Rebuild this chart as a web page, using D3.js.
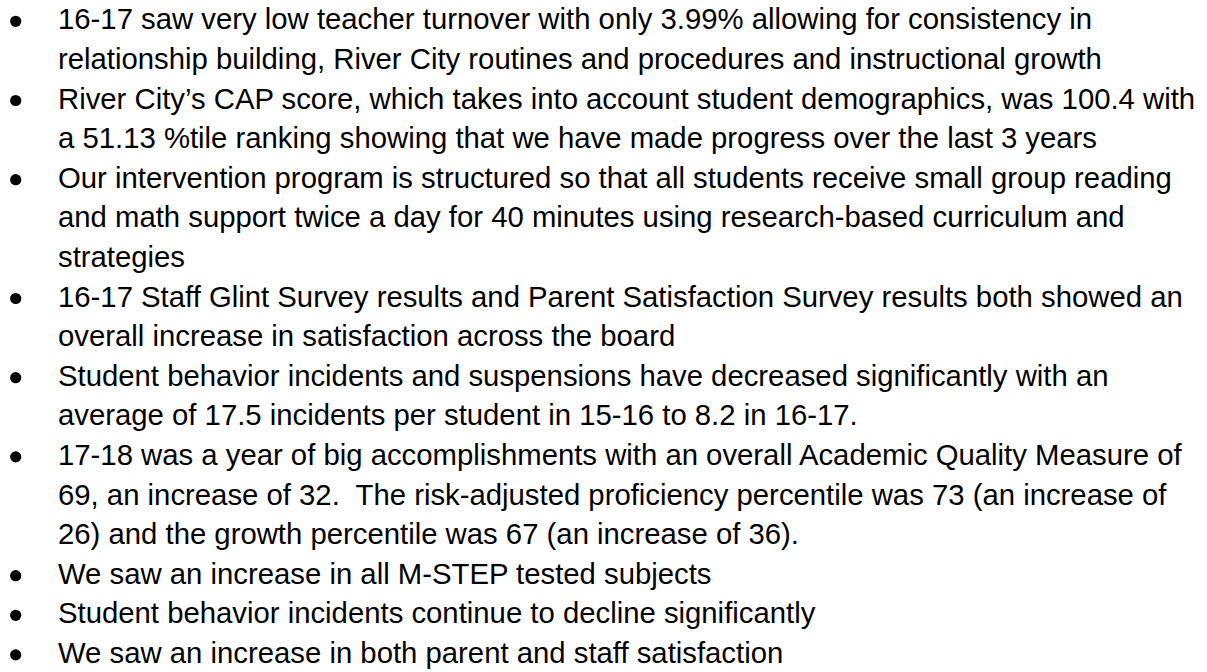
<!DOCTYPE html>
<html>
<head>
<meta charset="utf-8">
<script src="https://cdn.jsdelivr.net/npm/d3@7"></script>
<style>
  html, body { margin: 0; padding: 0; background: #fff; }
  svg { display: block; }
</style>
</head>
<body>
<svg id="chart1"></svg>
<script>
// Bullet points, already wrapped as in the source slide.
const bulletLines = [
	["16-17 saw very low teacher turnover with only 3.99% allowing for consistency in",
	 "relationship building, River City routines and procedures and instructional growth"],
	["River City\u2019s CAP score, which takes into account student demographics, was 100.4 with",
	 "a 51.13 %tile ranking showing that we have made progress over the last 3 years"],
	["Our intervention program is structured so that all students receive small group reading",
	 "and math support twice a day for 40 minutes using research-based curriculum and",
	 "strategies"],
	["16-17 Staff Glint Survey results and Parent Satisfaction Survey results both showed an",
	 "overall increase in satisfaction across the board"],
	["Student behavior incidents and suspensions have decreased significantly with an",
	 "average of 17.5 incidents per student in 15-16 to 8.2 in 16-17."],
	["17-18 was a year of big accomplishments with an overall Academic Quality Measure of",
	 "69, an increase of 32.  The risk-adjusted proficiency percentile was 73 (an increase of",
	 "26) and the growth percentile was 67 (an increase of 36)."],
	["We saw an increase in all M-STEP tested subjects"],
	["Student behavior incidents continue to decline significantly"],
	["We saw an increase in both parent and staff satisfaction"]
];

const width = 1207;
const height = 672;
const firstBaseline = 29.3;
const lineHeight = 39.6;
const textX = 58;
const bulletX = 15.7;
const fontSize = 29.3;

// flatten into rows, remember which rows start a bullet
let rows = [];
bulletLines.forEach((lines, b) => {
	lines.forEach((t, i) => rows.push({text: t, bullet: b, first: i === 0}));
});
rows.forEach((r, i) => r.row = i);

const yScale = d3.scaleLinear()
	.domain([0, rows.length - 1])
	.range([firstBaseline, firstBaseline + lineHeight * (rows.length - 1)]);

const svg = d3.select("#chart1")
	.attr("width", width)
	.attr("height", height);

svg.selectAll("text.line")
	.data(rows)
	.join("text")
	.attr("class", "line")
	.attr("x", textX)
	.attr("y", d => yScale(d.row))
	.attr("font-family", "'Liberation Sans', Arial, sans-serif")
	.attr("font-size", fontSize)
	.attr("fill", "#000")
	.style("white-space", "pre")
	.text(d => d.text);

svg.selectAll("circle.bullet")
	.data(rows.filter(d => d.first))
	.join("circle")
	.attr("class", "bullet")
	.attr("cx", bulletX)
	.attr("cy", d => yScale(d.row) - 8)
	.attr("r", 5.6)
	.attr("fill", "#000");
</script>
</body>
</html>
